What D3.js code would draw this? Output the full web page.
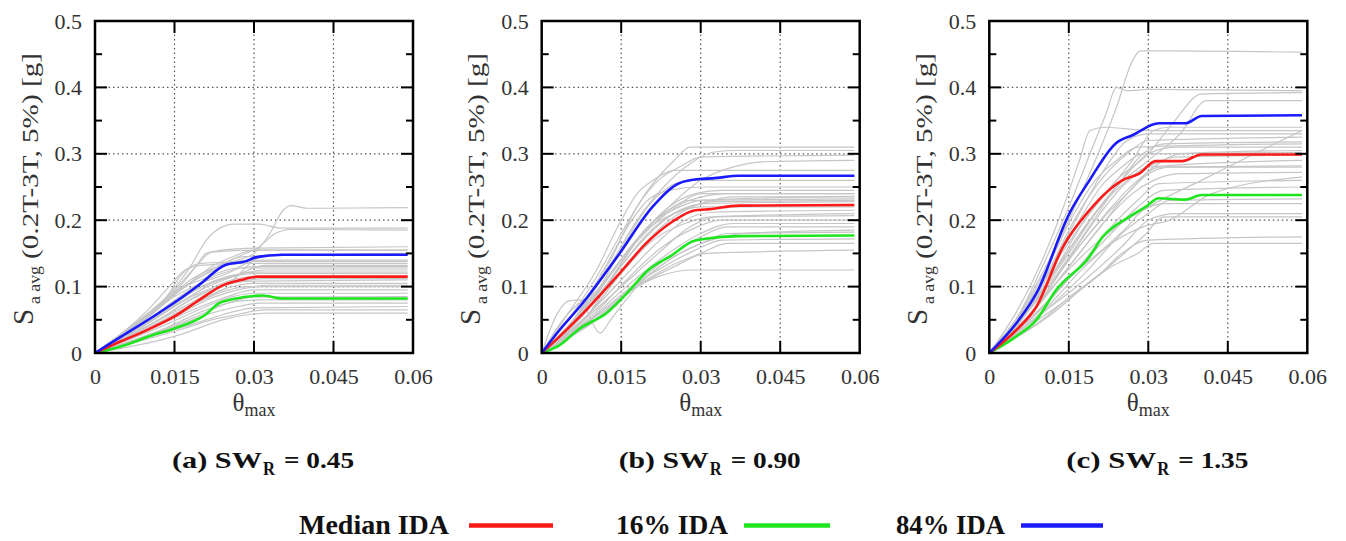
<!DOCTYPE html>
<html><head><meta charset="utf-8">
<script src="https://cdn.jsdelivr.net/npm/d3@7"></script>
<style>body{margin:0;background:#fff}svg{display:block}</style>
</head><body><svg id="c" width="1346" height="541"></svg>
<script>
// ---------- data ----------
const xTickValues=[0,0.015,0.03,0.045,0.06];
const xTickLabels=["0","0.015","0.03","0.045","0.06"];
const yTickValues=[0,0.1,0.2,0.3,0.4,0.5];
const yTickLabels=["0","0.1","0.2","0.3","0.4","0.5"];
const yMinorTicks=[0.05,0.15,0.25,0.35,0.45];
const panelLetters=["(a) SW","(b) SW","(c) SW"];
const panelSWR=["= 0.45","= 0.90","= 1.35"];
const legendLabels=["Median IDA","16% IDA","84% IDA"];
const legendColors=["#ff1a1a","#1ee61e","#1a1aff"];

// panel (a) SW_R = 0.45
const medianA=[[0,0],[0.005,0.018],[0.0094,0.033],[0.015,0.055],[0.0197,0.08],[0.0244,0.103],[0.0275,0.11],[0.0306,0.115],[0.059,0.115]];
const p16A=[[0,0],[0.005,0.01],[0.0109,0.027],[0.015,0.037],[0.0209,0.058],[0.0234,0.075],[0.0259,0.081],[0.0316,0.0865],[0.0353,0.082],[0.059,0.082]];
const p84A=[[0,0],[0.005,0.025],[0.0116,0.058],[0.015,0.076],[0.0197,0.103],[0.0247,0.133],[0.0284,0.138],[0.0303,0.144],[0.0353,0.148],[0.059,0.148]];
const recordsA=[
[[0,0],[0.008,0.04],[0.015,0.09],[0.02,0.115],[0.027,0.14],[0.03,0.15],[0.033,0.18],[0.0355,0.215],[0.037,0.222],[0.04,0.218],[0.059,0.219]],
[[0,0],[0.008,0.045],[0.013,0.08],[0.018,0.13],[0.021,0.17],[0.024,0.19],[0.026,0.194],[0.031,0.194],[0.035,0.188],[0.059,0.188]],
[[0,0],[0.01,0.055],[0.017,0.1],[0.022,0.125],[0.027,0.145],[0.031,0.16],[0.034,0.18],[0.037,0.186],[0.059,0.185]],
[[0,0],[0.01,0.06],[0.016,0.1],[0.019,0.13],[0.021,0.15],[0.024,0.155],[0.03,0.158],[0.059,0.16]],
[[0,0],[0.012,0.07],[0.017,0.1],[0.022,0.13],[0.026,0.145],[0.03,0.155],[0.059,0.155]],
[[0,0],[0.009,0.05],[0.014,0.09],[0.016,0.115],[0.018,0.13],[0.02,0.135],[0.025,0.137],[0.03,0.14],[0.059,0.14]],
[[0,0],[0.01,0.065],[0.014,0.1],[0.017,0.125],[0.02,0.132],[0.028,0.135],[0.059,0.135]],
[[0,0],[0.011,0.06],[0.018,0.11],[0.023,0.13],[0.028,0.145],[0.059,0.15]],
[[0,0],[0.01,0.05],[0.016,0.085],[0.021,0.11],[0.026,0.125],[0.03,0.13],[0.059,0.13]],
[[0,0],[0.012,0.055],[0.018,0.09],[0.023,0.11],[0.028,0.12],[0.032,0.125],[0.059,0.125]],
[[0,0],[0.01,0.048],[0.017,0.08],[0.022,0.105],[0.026,0.115],[0.03,0.12],[0.059,0.12]],
[[0,0],[0.012,0.05],[0.02,0.09],[0.025,0.108],[0.03,0.115],[0.059,0.116]],
[[0,0],[0.011,0.045],[0.018,0.075],[0.024,0.1],[0.028,0.108],[0.059,0.11]],
[[0,0],[0.012,0.045],[0.02,0.08],[0.025,0.098],[0.03,0.105],[0.059,0.105]],
[[0,0],[0.013,0.05],[0.019,0.075],[0.024,0.092],[0.029,0.1],[0.059,0.1]],
[[0,0],[0.012,0.042],[0.02,0.07],[0.025,0.085],[0.03,0.095],[0.059,0.095]],
[[0,0],[0.014,0.045],[0.021,0.07],[0.026,0.085],[0.03,0.09],[0.059,0.09]],
[[0,0],[0.013,0.035],[0.02,0.058],[0.025,0.075],[0.03,0.084],[0.059,0.085]],
[[0,0],[0.015,0.04],[0.022,0.06],[0.027,0.07],[0.031,0.075],[0.059,0.075]],
[[0,0],[0.015,0.035],[0.021,0.05],[0.026,0.062],[0.03,0.068],[0.059,0.07]],
[[0,0],[0.016,0.035],[0.022,0.05],[0.027,0.058],[0.032,0.065],[0.059,0.065]],
[[0,0],[0.017,0.03],[0.024,0.05],[0.029,0.058],[0.033,0.06],[0.059,0.06]],
[[0,0],[0.009,0.05],[0.013,0.08],[0.017,0.1],[0.02,0.11],[0.027,0.128],[0.059,0.128]],
[[0,0],[0.01,0.055],[0.015,0.085],[0.02,0.105],[0.025,0.12],[0.03,0.138],[0.059,0.138]],
[[0,0],[0.012,0.06],[0.02,0.1],[0.025,0.115],[0.031,0.122],[0.059,0.122]],
[[0,0],[0.011,0.05],[0.019,0.088],[0.025,0.103],[0.032,0.112],[0.059,0.112]],
[[0,0],[0.013,0.06],[0.02,0.095],[0.027,0.118],[0.032,0.132],[0.059,0.132]],
[[0,0],[0.014,0.05],[0.022,0.083],[0.028,0.097],[0.033,0.102],[0.059,0.102]],
[[0,0],[0.01,0.06],[0.015,0.095],[0.019,0.13],[0.022,0.152],[0.03,0.155],[0.059,0.155]],
[[0,0],[0.012,0.05],[0.018,0.08],[0.022,0.095],[0.026,0.11],[0.03,0.14],[0.032,0.148],[0.059,0.148]],
[[0,0],[0.014,0.04],[0.021,0.065],[0.027,0.078],[0.031,0.08],[0.059,0.08]]
];

// panel (b) SW_R = 0.90
const medianB=[[0,0],[0.0034,0.025],[0.0072,0.0547],[0.0147,0.12],[0.0197,0.165],[0.0247,0.198],[0.029,0.215],[0.0309,0.216],[0.0372,0.222],[0.059,0.223]];
const p16B=[[0,0],[0.0034,0.012],[0.0072,0.037],[0.0122,0.06],[0.0172,0.1],[0.0197,0.122],[0.0247,0.148],[0.0284,0.168],[0.0309,0.172],[0.0372,0.176],[0.059,0.177]];
const p84B=[[0,0],[0.0034,0.035],[0.0072,0.07],[0.0147,0.15],[0.0209,0.22],[0.0259,0.2555],[0.0297,0.262],[0.0322,0.263],[0.0372,0.267],[0.059,0.267]];
const recordsB=[
[[0,0],[0.005,0.05],[0.01,0.11],[0.015,0.18],[0.02,0.245],[0.025,0.29],[0.028,0.31],[0.059,0.31]],
[[0,0],[0.006,0.05],[0.012,0.12],[0.018,0.2],[0.023,0.25],[0.028,0.285],[0.032,0.302],[0.036,0.305],[0.059,0.305]],
[[0,0],[0.007,0.06],[0.013,0.14],[0.018,0.22],[0.022,0.26],[0.026,0.28],[0.03,0.295],[0.059,0.298]],
[[0,0],[0.006,0.05],[0.012,0.11],[0.018,0.17],[0.024,0.22],[0.03,0.26],[0.036,0.28],[0.042,0.288],[0.059,0.29]],
[[0,0],[0.005,0.06],[0.01,0.12],[0.015,0.2],[0.018,0.24],[0.021,0.26],[0.025,0.275],[0.059,0.275]],
[[0,0],[0.006,0.05],[0.012,0.13],[0.017,0.2],[0.02,0.23],[0.024,0.245],[0.03,0.25],[0.059,0.25]],
[[0,0],[0.007,0.05],[0.013,0.11],[0.019,0.18],[0.024,0.22],[0.029,0.24],[0.034,0.245],[0.059,0.245]],
[[0,0],[0.008,0.06],[0.014,0.13],[0.02,0.19],[0.026,0.225],[0.03,0.24],[0.059,0.24]],
[[0,0],[0.006,0.045],[0.012,0.1],[0.018,0.16],[0.024,0.205],[0.03,0.225],[0.036,0.235],[0.059,0.235]],
[[0,0],[0.008,0.05],[0.014,0.11],[0.02,0.17],[0.026,0.21],[0.032,0.228],[0.059,0.23]],
[[0,0],[0.007,0.055],[0.013,0.12],[0.019,0.18],[0.025,0.21],[0.03,0.22],[0.059,0.22]],
[[0,0],[0.009,0.06],[0.015,0.11],[0.021,0.16],[0.027,0.2],[0.032,0.212],[0.059,0.215]],
[[0,0],[0.008,0.05],[0.015,0.1],[0.022,0.15],[0.028,0.19],[0.033,0.205],[0.059,0.207]],
[[0,0],[0.01,0.06],[0.016,0.11],[0.022,0.155],[0.028,0.185],[0.034,0.2],[0.059,0.2]],
[[0,0],[0.009,0.05],[0.016,0.1],[0.023,0.145],[0.03,0.18],[0.036,0.195],[0.059,0.195]],
[[0,0],[0.01,0.055],[0.017,0.1],[0.024,0.145],[0.03,0.175],[0.035,0.19],[0.059,0.19]],
[[0,0],[0.003,0.06],[0.005,0.078],[0.0075,0.08],[0.009,0.055],[0.011,0.03],[0.013,0.05],[0.018,0.1],[0.024,0.14],[0.03,0.165],[0.035,0.18],[0.059,0.182]],
[[0,0],[0.01,0.05],[0.017,0.095],[0.024,0.13],[0.03,0.15],[0.035,0.165],[0.059,0.165]],
[[0,0],[0.011,0.055],[0.018,0.1],[0.025,0.13],[0.031,0.15],[0.059,0.155]],
[[0,0],[0.01,0.05],[0.016,0.09],[0.022,0.115],[0.028,0.125],[0.059,0.125]],
[[0,0],[0.011,0.06],[0.017,0.1],[0.023,0.13],[0.029,0.155],[0.034,0.17],[0.059,0.172]],
[[0,0],[0.005,0.04],[0.01,0.085],[0.016,0.15],[0.022,0.2],[0.028,0.23],[0.035,0.24],[0.059,0.24]],
[[0,0],[0.006,0.05],[0.011,0.1],[0.016,0.17],[0.02,0.22],[0.024,0.25],[0.028,0.26],[0.059,0.26]],
[[0,0],[0.008,0.05],[0.014,0.12],[0.02,0.18],[0.026,0.215],[0.031,0.225],[0.059,0.228]],
[[0,0],[0.012,0.06],[0.019,0.11],[0.026,0.15],[0.032,0.17],[0.038,0.18],[0.059,0.185]],
[[0,0],[0.007,0.05],[0.012,0.1],[0.018,0.17],[0.023,0.21],[0.028,0.23],[0.059,0.232]],
[[0,0],[0.009,0.06],[0.015,0.12],[0.021,0.17],[0.027,0.195],[0.032,0.205],[0.059,0.21]],
[[0,0],[0.004,0.05],[0.007,0.075],[0.01,0.09],[0.015,0.14],[0.02,0.19],[0.026,0.22],[0.03,0.23],[0.059,0.236]]
];

// panel (c) SW_R = 1.35
const medianC=[[0,0],[0.0051,0.0346],[0.0089,0.07],[0.0139,0.16],[0.0189,0.215],[0.0251,0.26],[0.0283,0.27],[0.0314,0.289],[0.0364,0.289],[0.0401,0.299],[0.059,0.299]];
const p16C=[[0,0],[0.0051,0.025],[0.0089,0.05],[0.0126,0.095],[0.0189,0.145],[0.0214,0.175],[0.0264,0.205],[0.0295,0.22],[0.032,0.233],[0.037,0.231],[0.0401,0.238],[0.059,0.238]];
const p84C=[[0,0],[0.0051,0.0447],[0.0089,0.09],[0.0151,0.21],[0.0189,0.26],[0.0239,0.316],[0.027,0.328],[0.032,0.346],[0.037,0.346],[0.0401,0.357],[0.059,0.358]];
const recordsC=[
[[0,0],[0.005,0.05],[0.01,0.12],[0.015,0.2],[0.02,0.29],[0.024,0.37],[0.027,0.44],[0.0285,0.455],[0.033,0.455],[0.059,0.453]],
[[0,0],[0.005,0.05],[0.01,0.13],[0.015,0.22],[0.019,0.3],[0.022,0.36],[0.024,0.4],[0.026,0.395],[0.03,0.397],[0.059,0.395]],
[[0,0],[0.006,0.05],[0.012,0.13],[0.018,0.2],[0.024,0.26],[0.03,0.3],[0.035,0.35],[0.04,0.39],[0.059,0.392]],
[[0,0],[0.006,0.05],[0.012,0.12],[0.018,0.19],[0.024,0.25],[0.03,0.29],[0.036,0.33],[0.041,0.38],[0.059,0.38]],
[[0,0],[0.005,0.06],[0.01,0.14],[0.014,0.22],[0.017,0.29],[0.019,0.335],[0.022,0.34],[0.03,0.335],[0.059,0.335]],
[[0,0],[0.006,0.04],[0.012,0.1],[0.018,0.15],[0.024,0.19],[0.03,0.22],[0.04,0.26],[0.05,0.3],[0.059,0.335]],
[[0,0],[0.006,0.05],[0.011,0.12],[0.016,0.2],[0.021,0.26],[0.026,0.3],[0.03,0.32],[0.059,0.325]],
[[0,0],[0.006,0.05],[0.012,0.11],[0.018,0.18],[0.024,0.25],[0.029,0.3],[0.033,0.315],[0.059,0.318]],
[[0,0],[0.007,0.06],[0.013,0.13],[0.019,0.2],[0.025,0.26],[0.03,0.3],[0.035,0.31],[0.059,0.31]],
[[0,0],[0.007,0.05],[0.014,0.12],[0.02,0.18],[0.026,0.24],[0.031,0.28],[0.036,0.3],[0.059,0.305]],
[[0,0],[0.008,0.06],[0.014,0.13],[0.02,0.2],[0.025,0.25],[0.03,0.28],[0.035,0.295],[0.059,0.298]],
[[0,0],[0.008,0.07],[0.015,0.15],[0.021,0.22],[0.026,0.26],[0.03,0.28],[0.059,0.29]],
[[0,0],[0.008,0.06],[0.015,0.14],[0.022,0.21],[0.028,0.26],[0.032,0.28],[0.059,0.282]],
[[0,0],[0.009,0.07],[0.016,0.14],[0.022,0.2],[0.027,0.24],[0.031,0.26],[0.036,0.27],[0.059,0.272]],
[[0,0],[0.009,0.06],[0.017,0.13],[0.023,0.19],[0.028,0.23],[0.032,0.255],[0.059,0.26]],
[[0,0],[0.01,0.07],[0.017,0.13],[0.023,0.18],[0.028,0.22],[0.033,0.245],[0.059,0.25]],
[[0,0],[0.01,0.06],[0.018,0.12],[0.025,0.18],[0.03,0.21],[0.034,0.23],[0.059,0.232]],
[[0,0],[0.01,0.06],[0.018,0.11],[0.025,0.16],[0.03,0.2],[0.035,0.21],[0.059,0.21]],
[[0,0],[0.011,0.06],[0.018,0.1],[0.024,0.14],[0.029,0.175],[0.033,0.205],[0.059,0.205]],
[[0,0],[0.01,0.05],[0.016,0.09],[0.021,0.12],[0.025,0.15],[0.03,0.17],[0.059,0.175]],
[[0,0],[0.012,0.06],[0.018,0.1],[0.023,0.13],[0.028,0.15],[0.031,0.165],[0.059,0.165]],
[[0,0],[0.006,0.06],[0.011,0.13],[0.016,0.21],[0.02,0.26],[0.024,0.29],[0.028,0.31],[0.059,0.315]],
[[0,0],[0.007,0.06],[0.012,0.13],[0.017,0.2],[0.021,0.25],[0.025,0.28],[0.029,0.3],[0.059,0.302]],
[[0,0],[0.005,0.05],[0.011,0.12],[0.017,0.21],[0.022,0.28],[0.026,0.32],[0.03,0.33],[0.059,0.33]],
[[0,0],[0.008,0.06],[0.014,0.13],[0.02,0.19],[0.026,0.24],[0.03,0.27],[0.034,0.28],[0.059,0.28]],
[[0,0],[0.009,0.06],[0.016,0.12],[0.022,0.16],[0.026,0.19],[0.029,0.215],[0.033,0.225],[0.059,0.225]],
[[0,0],[0.006,0.05],[0.012,0.12],[0.018,0.2],[0.023,0.25],[0.027,0.29],[0.031,0.335],[0.034,0.34],[0.059,0.34]],
[[0,0],[0.011,0.07],[0.018,0.13],[0.024,0.17],[0.029,0.19],[0.034,0.2],[0.042,0.24],[0.059,0.265]]
];

// ---------- drawing ----------
const svg=d3.select("#c");
const panels=[
 {left:95,   gray:recordsA, med:medianA, p16:p16A, p84:p84A},
 {left:541.7,gray:recordsB, med:medianB, p16:p16B, p84:p84B},
 {left:989.3,gray:recordsC, med:medianC, p16:p16C, p84:p84C}
];
const W=318, TOP=21, BOT=353;
const serifFont="'Liberation Serif', 'Times New Roman', serif";

panels.forEach((p,i)=>{
  const L=p.left;
  const x=d3.scaleLinear().domain([0,0.06]).range([L,L+W]);
  const y=d3.scaleLinear().domain([0,0.5]).range([BOT,TOP]);
  const g=svg.append("g");
  const cid="clip"+i;
  svg.append("clipPath").attr("id",cid).append("rect")
    .attr("x",L).attr("y",TOP).attr("width",W).attr("height",BOT-TOP);

  // grid
  const gridX=xTickValues.slice(1,-1), gridY=yTickValues.slice(1,-1);
  g.selectAll(".gx").data(gridX).join("line")
    .attr("x1",d=>x(d)).attr("x2",d=>x(d)).attr("y1",TOP).attr("y2",BOT)
    .attr("stroke","#555").attr("stroke-width",1.2).attr("stroke-dasharray","1.5,3");
  g.selectAll(".gy").data(gridY).join("line")
    .attr("y1",d=>y(d)).attr("y2",d=>y(d)).attr("x1",L).attr("x2",L+W)
    .attr("stroke","#555").attr("stroke-width",1.2).attr("stroke-dasharray","1.5,3");

  const line=d3.line().x(d=>x(d[0])).y(d=>y(d[1])).curve(d3.curveMonotoneX);
  const lg=g.append("g").attr("clip-path",`url(#${cid})`);
  lg.selectAll(".gr").data(p.gray).join("path")
    .attr("d",line).attr("fill","none").attr("stroke","#c6c6c6").attr("stroke-width",1.2);
  [[p.p16,legendColors[1]],[p.med,legendColors[0]],[p.p84,legendColors[2]]].forEach(([d,c])=>{
    lg.append("path").attr("d",line(d)).attr("fill","none").attr("stroke",c).attr("stroke-width",2.6)
      .attr("stroke-linejoin","round");
  });

  // inward ticks
  const tk=g.append("g").attr("stroke","#000").attr("stroke-width",2);
  tk.selectAll(".ty").data(gridY).join("line")
    .attr("x1",L).attr("x2",L+12).attr("y1",d=>y(d)).attr("y2",d=>y(d));
  tk.selectAll(".ty2").data(gridY).join("line")
    .attr("x1",L+W).attr("x2",L+W-12).attr("y1",d=>y(d)).attr("y2",d=>y(d));
  tk.selectAll(".tm").data(yMinorTicks).join("line")
    .attr("x1",L).attr("x2",L+7).attr("y1",d=>y(d)).attr("y2",d=>y(d));
  tk.selectAll(".tm2").data(yMinorTicks).join("line")
    .attr("x1",L+W).attr("x2",L+W-7).attr("y1",d=>y(d)).attr("y2",d=>y(d));
  tk.selectAll(".tx").data(gridX).join("line")
    .attr("x1",d=>x(d)).attr("x2",d=>x(d)).attr("y1",BOT).attr("y2",BOT-12);
  tk.selectAll(".tx2").data(gridX).join("line")
    .attr("x1",d=>x(d)).attr("x2",d=>x(d)).attr("y1",TOP).attr("y2",TOP+12);

  // frame
  g.append("rect").attr("x",L).attr("y",TOP).attr("width",W).attr("height",BOT-TOP)
    .attr("fill","none").attr("stroke","#000").attr("stroke-width",2.5);

  // axes labels
  const ax=g.append("g").attr("transform",`translate(0,${BOT})`)
    .call(d3.axisBottom(x).tickValues(xTickValues).tickFormat((d,k)=>xTickLabels[k]).tickSize(0).tickPadding(15));
  const ay=g.append("g").attr("transform",`translate(${L},0)`)
    .call(d3.axisLeft(y).tickValues(yTickValues).tickFormat((d,k)=>yTickLabels[k]).tickSize(0).tickPadding(13));
  [ax,ay].forEach(a=>{a.select(".domain").remove();
    a.selectAll("text").style("font-family",serifFont).style("font-size","22px").attr("fill","#333");});

  // y label
  const yl=svg.append("g").attr("transform",`translate(${L-62},0) rotate(-90)`)
    .style("font-family",serifFont).attr("fill","#333");
  yl.append("text").attr("x",-325).attr("y",0).attr("font-size",29).text("S");
  yl.append("text").attr("x",-304).attr("y",7).attr("font-size",17)
    .attr("textLength",38).attr("lengthAdjust","spacingAndGlyphs").text("a avg");
  yl.append("text").attr("x",-259).attr("y",4.5).attr("font-size",23)
    .attr("textLength",206).attr("lengthAdjust","spacingAndGlyphs").text("(0.2T-3T, 5%) [g]");

  // x label
  const xl=svg.append("text").attr("x",x(0.03)).attr("y",411).attr("text-anchor","middle")
    .style("font-family",serifFont).attr("fill","#333");
  xl.append("tspan").attr("font-size",25).text("θ");
  xl.append("tspan").attr("font-size",18).attr("dy",5).text("max");

  // subtitle
  const sx=L+77;
  const st=svg.append("g").style("font-family",serifFont).attr("font-weight","bold").attr("fill","#111");
  st.append("text").attr("x",sx).attr("y",468)
    .attr("font-size",23).attr("textLength",90).attr("lengthAdjust","spacingAndGlyphs").text(panelLetters[i]);
  st.append("text").attr("x",sx+91).attr("y",475)
    .attr("font-size",18).attr("textLength",12).attr("lengthAdjust","spacingAndGlyphs").text("R");
  st.append("text").attr("x",sx+112).attr("y",468)
    .attr("font-size",23).attr("textLength",70).attr("lengthAdjust","spacingAndGlyphs").text(panelSWR[i]);
});

// legend
const legTextX=[299,616,896], legTextW=[150,112,109], legLine=[[469,553],[744,830],[1021,1103]];
legendLabels.forEach((lab,i)=>{
  svg.append("text").attr("x",legTextX[i]).attr("y",534).style("font-family",serifFont)
    .attr("font-weight","bold").attr("font-size",27).attr("textLength",legTextW[i])
    .attr("lengthAdjust","spacingAndGlyphs").attr("fill","#111").text(lab);
  svg.append("line").attr("x1",legLine[i][0]).attr("x2",legLine[i][1]).attr("y1",525.5).attr("y2",525.5)
    .attr("stroke",legendColors[i]).attr("stroke-width",4.5);
});
</script></body></html>
